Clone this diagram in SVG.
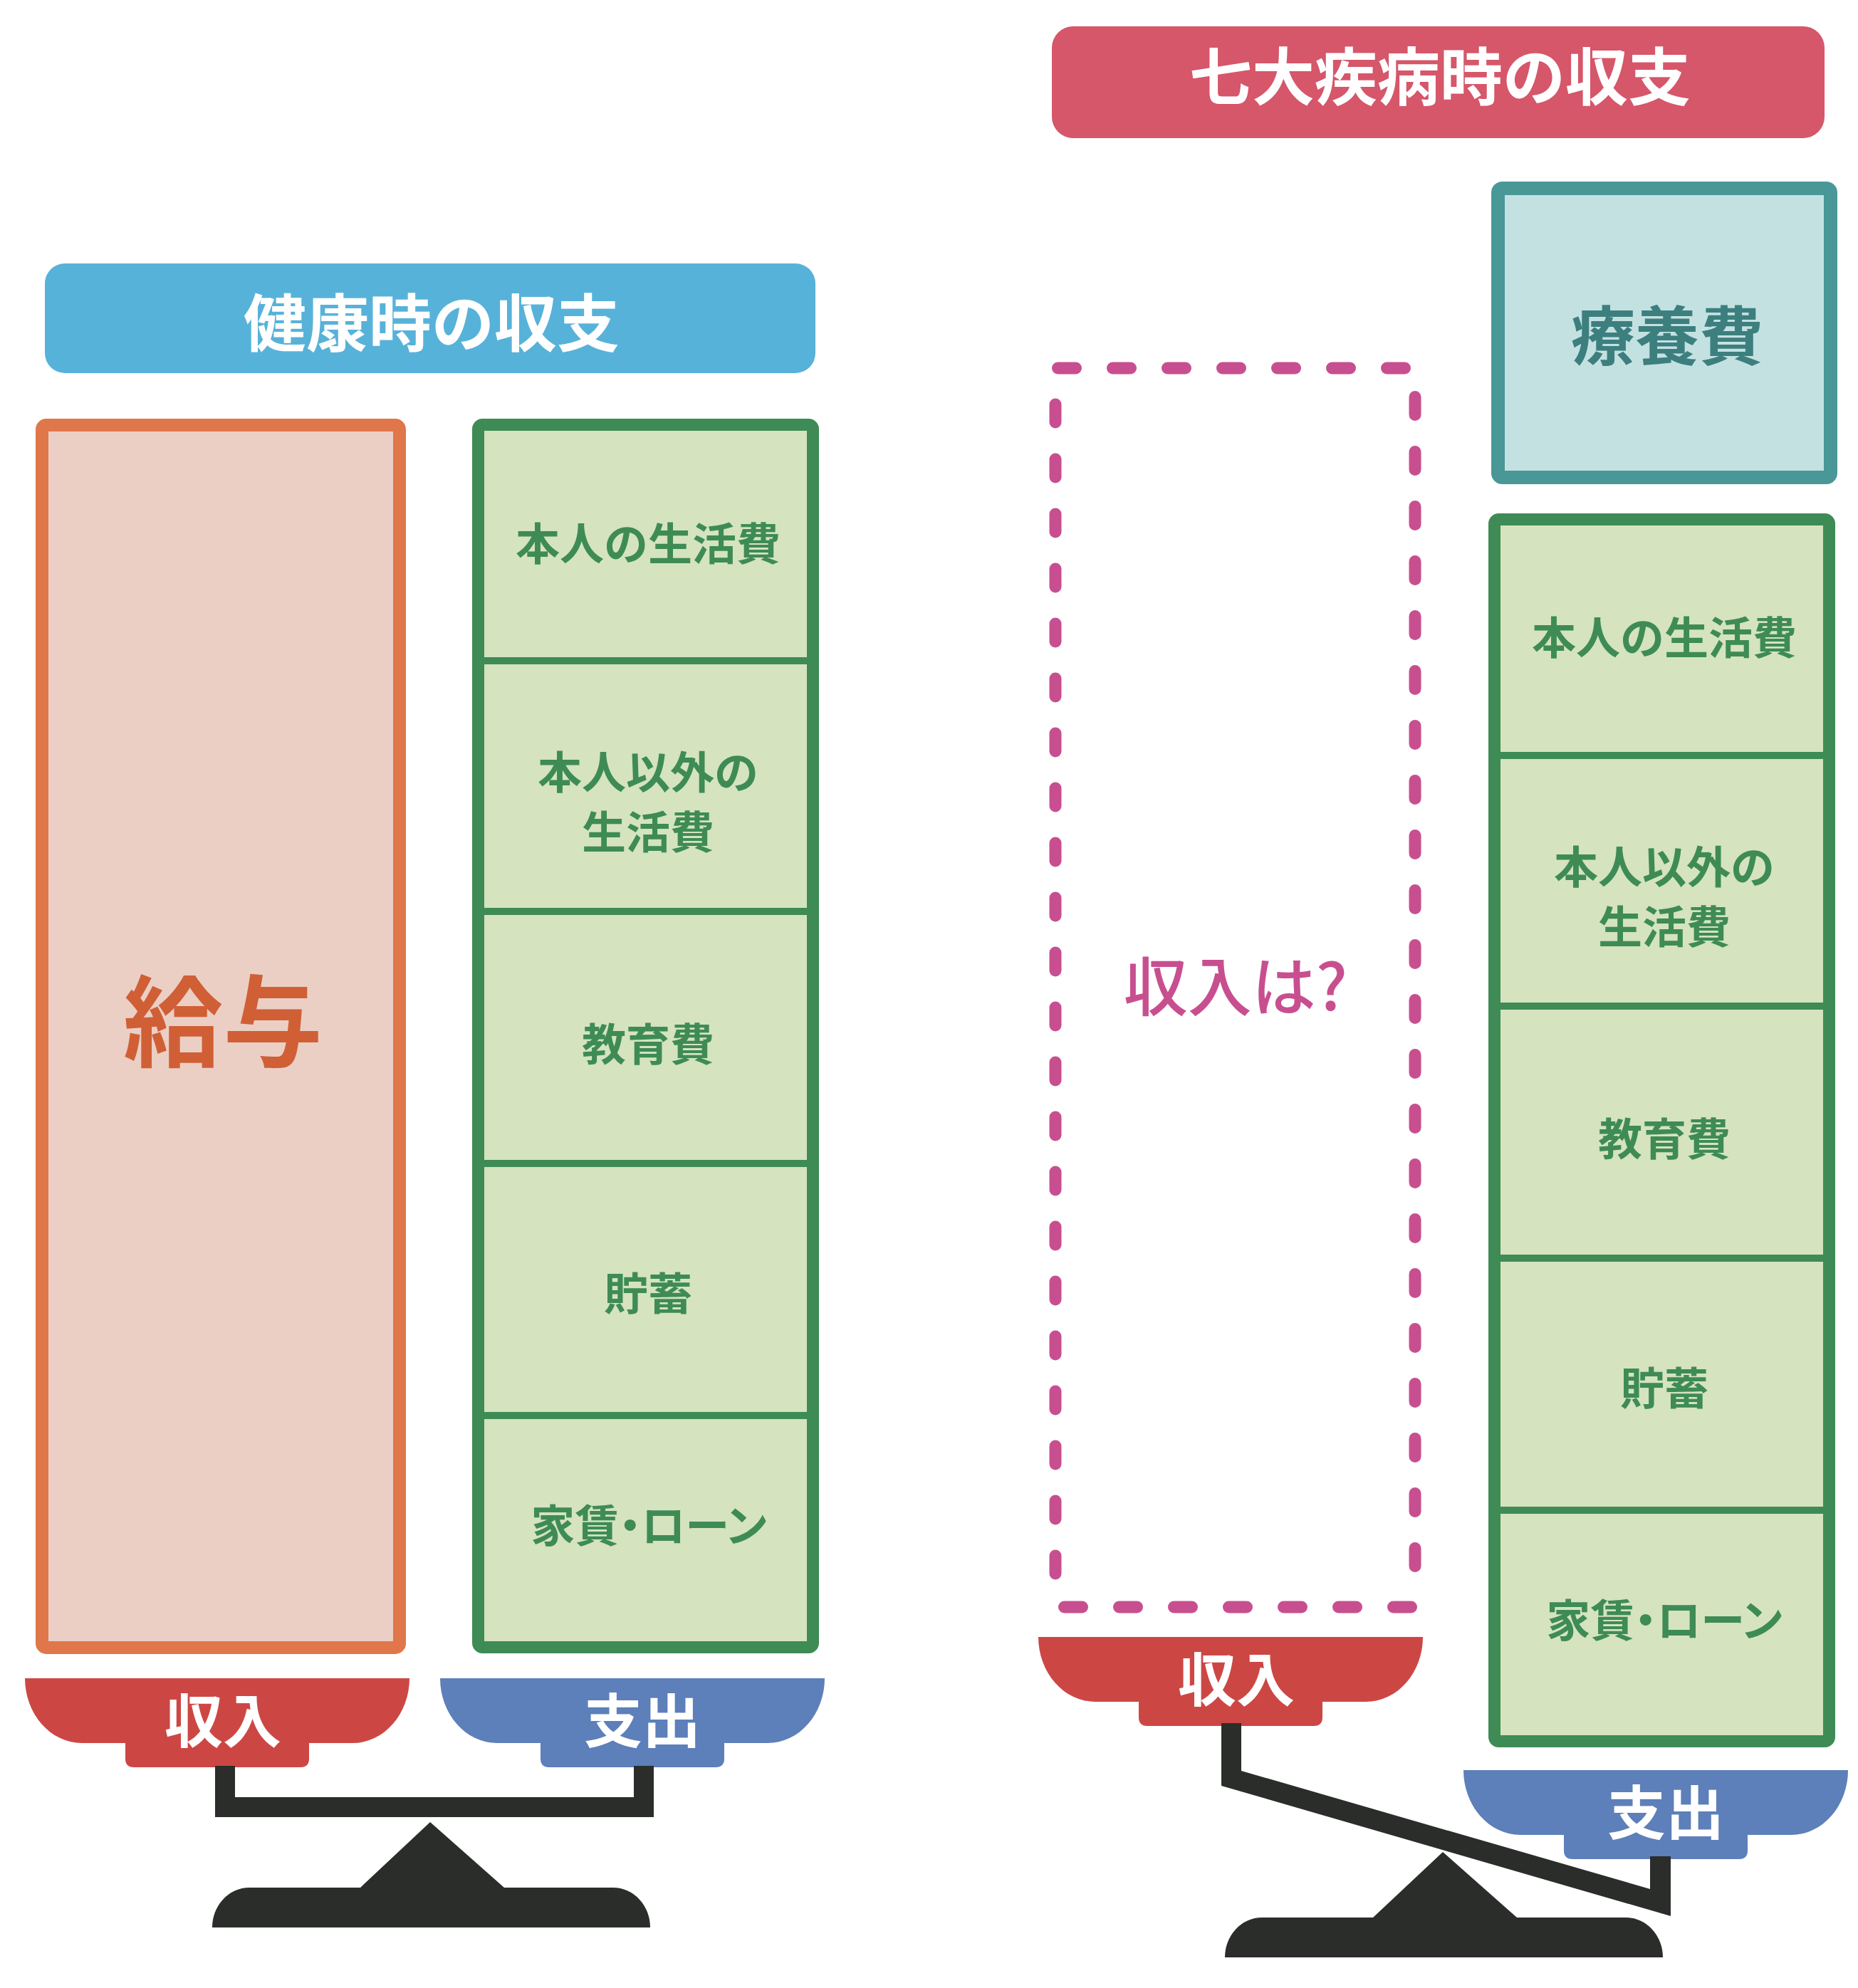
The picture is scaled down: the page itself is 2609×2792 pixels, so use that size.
<svg xmlns="http://www.w3.org/2000/svg" width="2609" height="2792" viewBox="0 0 2609 2792">
<defs>
<style>
.jp{font-family:"Noto Sans CJK JP","Noto Sans CJK SC",sans-serif;text-anchor:middle;dominant-baseline:central;}
.hdr{fill:#ffffff;font-size:88px;font-weight:700;}
.lbl{fill:#3e8b56;font-size:62px;font-weight:700;}
.palt{font-feature-settings:"palt" 1;}
.bowltxt{fill:#ffffff;font-size:82px;font-weight:700;}
.gbox{fill:#d5e3bf;stroke:#3e8b56;stroke-width:17;}
.div{stroke:#3e8b56;stroke-width:10;}
.dash{fill:none;stroke:#c84f8f;stroke-width:17;stroke-linecap:round;stroke-dasharray:25 52;}
.dark{fill:#2b2d2b;}
</style>
<path id="bowl" d="M0,0 H540 A80,91 0 0 1 460,91 H399 V113 Q399,125 387,125 H153 Q141,125 141,113 V91 H80 A80,91 0 0 1 0,0 Z"/>
<path id="fulcrum" d="M0,56 A52,56 0 0 1 52,0 H208 L306,-92 L410,0 H563 A52,56 0 0 1 615,56 Z"/>
</defs>
<rect width="2609" height="2792" fill="#ffffff"/>

<!-- Left: healthy -->
<g id="header-healthy">
<rect x="63" y="370" width="1082" height="154" rx="28" fill="#57b2d9"/>
<text class="jp hdr" x="606" y="447">健康時の収支</text>
</g>

<g id="income-salary">
<rect x="59" y="597" width="502" height="1717" rx="6" fill="#ebcfc5" stroke="#e0774a" stroke-width="18"/>
<text class="jp" x="313" y="1426" font-size="140" font-weight="700" fill="#d05f36">給与</text>
</g>

<g id="expense-healthy">
<rect class="gbox" x="671.5" y="596.5" width="470" height="1717" rx="6"/>
<line class="div" x1="680" y1="928" x2="1133" y2="928"/>
<line class="div" x1="680" y1="1280" x2="1133" y2="1280"/>
<line class="div" x1="680" y1="1634" x2="1133" y2="1634"/>
<line class="div" x1="680" y1="1988" x2="1133" y2="1988"/>
<text class="jp lbl" x="910" y="760">本人の生活費</text>
<text class="jp lbl" x="910" y="1081">本人以外の</text>
<text class="jp lbl" x="910" y="1165">生活費</text>
<text class="jp lbl" x="910" y="1463">教育費</text>
<text class="jp lbl" x="910" y="1813">貯蓄</text>
<text class="jp lbl palt" x="911" y="2139">家賃・ローン</text>
</g>

<g id="bowl-income-left">
<use href="#bowl" x="35" y="2357" fill="#cc4744"/>
<text class="jp bowltxt" x="313" y="2411">収入</text>
</g>
<g id="bowl-expense-left">
<use href="#bowl" x="618" y="2357" fill="#5d7fba"/>
<text class="jp bowltxt" x="902" y="2411">支出</text>
</g>

<g id="balance-left">
<path class="dark" d="M302,2480 H330 V2524 H890 V2480 H918 V2552 H302 Z"/>
<use href="#fulcrum" x="298" y="2651" class="dark"/>
</g>

<!-- Right: illness -->
<g id="header-illness">
<rect x="1477" y="37" width="1085" height="157" rx="30" fill="#d6566a"/>
<text class="jp hdr" x="2022" y="101" font-size="84">七大疾病時の収支</text>
</g>

<g id="medical-cost">
<rect x="2103.5" y="264.5" width="467" height="406" rx="6" fill="#c4e1e1" stroke="#4a9797" stroke-width="19"/>
<text class="jp" x="2341" y="466" font-size="90" font-weight="700" fill="#3d7f7f">療養費</text>
</g>

<g id="income-unknown">
<line class="dash" x1="1485.5" y1="517" x2="1995" y2="517"/>
<line class="dash" x1="1494.5" y1="2257" x2="1995" y2="2257"/>
<line class="dash" x1="1482" y1="568" x2="1482" y2="2240"/>
<line class="dash" x1="1987" y1="557.5" x2="1987" y2="2245"/>
<text class="jp" x="1735" y="1380" font-size="90" font-weight="500" fill="#c84f8f">収入は?</text>
</g>

<g id="expense-illness">
<rect class="gbox" x="2098.5" y="729.5" width="470" height="1716" rx="6"/>
<line class="div" x1="2107" y1="1061" x2="2560" y2="1061"/>
<line class="div" x1="2107" y1="1413" x2="2560" y2="1413"/>
<line class="div" x1="2107" y1="1767" x2="2560" y2="1767"/>
<line class="div" x1="2107" y1="2121" x2="2560" y2="2121"/>
<text class="jp lbl" x="2337" y="892">本人の生活費</text>
<text class="jp lbl" x="2337" y="1214">本人以外の</text>
<text class="jp lbl" x="2337" y="1298">生活費</text>
<text class="jp lbl" x="2337" y="1596">教育費</text>
<text class="jp lbl" x="2337" y="1946">貯蓄</text>
<text class="jp lbl palt" x="2337" y="2272">家賃・ローン</text>
</g>

<g id="bowl-income-right">
<use href="#bowl" x="1458" y="2299" fill="#cc4744"/>
<text class="jp bowltxt" x="1736" y="2353">収入</text>
</g>
<g id="bowl-expense-right">
<use href="#bowl" x="2055" y="2486" fill="#5d7fba"/>
<text class="jp bowltxt" x="2339" y="2540">支出</text>
</g>

<g id="balance-right">
<path class="dark" d="M1715,2420 H1743 V2487 L2317,2653 V2607 H2346 V2691 L1715,2508 Z"/>
<use href="#fulcrum" x="1720" y="2693" class="dark"/>
</g>
</svg>
